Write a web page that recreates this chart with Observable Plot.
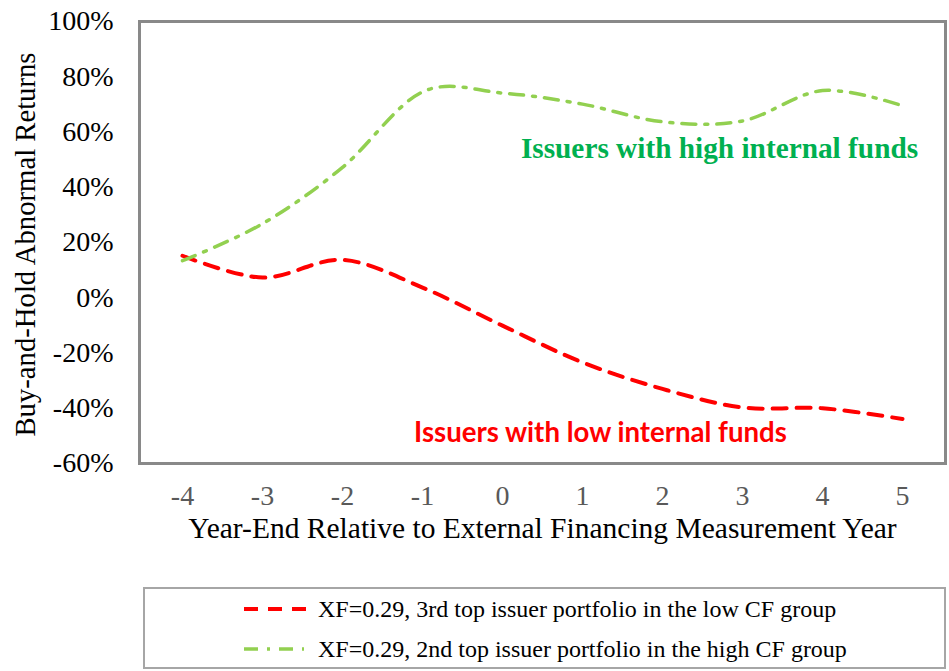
<!DOCTYPE html>
<html>
<head>
<meta charset="utf-8">
<script src="https://cdn.jsdelivr.net/npm/d3@7"></script>
<script src="https://cdn.jsdelivr.net/npm/@observablehq/plot@0.6"></script>
<style>
  html, body { margin: 0; padding: 0; background: #fff; }
  #wrap { position: relative; width: 949px; height: 671px; overflow: hidden; }
  #legend { position: absolute; left: 143px; top: 587px; width: 799px; height: 78px;
            border: 2px solid #a6a6a6; font-family: "Liberation Serif", serif; font-size: 24px; color: #000; }
  .item { position: absolute; left: 0; display: flex; align-items: center; white-space: nowrap; }
  .item svg { display: block; }
</style>
</head>
<body>
<div id="wrap"></div>
<script>
const years = [-4, -3, -2, -1, 0, 1, 2, 3, 4, 5];
const lowCF  = [0.152, 0.073, 0.137, 0.037, -0.101, -0.234, -0.330, -0.397, -0.400, -0.439];
const highCF = [0.134, 0.268, 0.472, 0.745, 0.741, 0.701, 0.637, 0.640, 0.750, 0.695];
const yTicks = [-0.6, -0.4, -0.2, 0, 0.2, 0.4, 0.6, 0.8, 1.0];
const xTitle = "Year-End Relative to External Financing Measurement Year";
const yTitle = "Buy-and-Hold Abnormal Returns";
const seriesNames = [
  "XF=0.29, 3rd top issuer portfolio in the low CF group",
  "XF=0.29, 2nd top issuer portfolio in the high CF group"
];
const annotations = ["Issuers with high internal funds", "Issuers with low internal funds"];

const red = "#ff0000", green = "#92d050";
const lowData = years.map((y, i) => ({year: y, v: lowCF[i]}));
const highData = years.map((y, i) => ({year: y, v: highCF[i]}));
const serif = "Liberation Serif, serif";

const chart = Plot.plot({
  width: 949,
  height: 580,
  marginLeft: 139,
  marginRight: 4,
  marginTop: 21,
  marginBottom: 117,
  style: {fontFamily: serif, fontSize: "28px", background: "white", color: "#000"},
  x: {type: "point", domain: years, padding: 0.5},
  y: {domain: [-0.6, 1.0]},
  marks: [
    Plot.axisY({ticks: yTicks, tickSize: 0, tickPadding: 26, tickFormat: d => `${Math.round(d * 100)}%`,
      fontSize: 28, fontFamily: serif, fill: "#000", label: null}),
    Plot.axisX({tickSize: 0, tickPadding: 22, tickFormat: d => `${d}`, fill: "#595959",
      fontSize: 28, fontFamily: serif, label: null}),
    Plot.text([yTitle], {frameAnchor: "left", dx: -114, dy: 2, rotate: -90, textAnchor: "middle", text: d => d, fontSize: 28.7, fontFamily: serif, fill: "#000"}),
    Plot.text([xTitle], {frameAnchor: "bottom", dy: 74, text: d => d, fontSize: 29.5, fontFamily: serif, fill: "#000"}),
    Plot.frame({stroke: "#898989", strokeWidth: 3}),
    Plot.line(lowData, {x: "year", y: "v", stroke: red, strokeWidth: 4, strokeDasharray: "14,10", curve: "cardinal"}),
    Plot.line(highData, {x: "year", y: "v", stroke: green, strokeWidth: 3.5, strokeDasharray: "14,9,3,9", curve: "cardinal"}),
    Plot.text([annotations[0]], {x: [2], y: [0.539], dx: 57, text: d => d, fill: "#00b050", fontWeight: "bold", fontSize: 29.3, fontFamily: serif}),
    Plot.text([annotations[1]], {x: [1], y: [-0.489], dx: 18, text: d => d, fill: red, fontWeight: "bold", fontSize: 27.6, fontFamily: "Lato, sans-serif"})
  ]
});
const wrap = document.getElementById("wrap");
wrap.appendChild(chart);

const legend = document.createElement("div");
legend.id = "legend";
const dashes = [{stroke: red, dash: "14,10", w: 4, sw: 72}, {stroke: green, dash: "14,9,3,9", w: 3.5, sw: 60}];
seriesNames.forEach((name, i) => {
  const item = document.createElement("div");
  item.className = "item";
  item.style.top = (i === 0 ? 6 : 46) + "px";
  item.style.left = "97px";
  const sample = d3.create("svg").attr("width", 76).attr("height", 28);
  sample.append("line").attr("x1", 2).attr("x2", 2 + dashes[i].sw).attr("y1", 14).attr("y2", 14)
    .attr("stroke", dashes[i].stroke).attr("stroke-width", dashes[i].w).attr("stroke-dasharray", dashes[i].dash);
  item.appendChild(sample.node());
  const t = document.createElement("span");
  t.textContent = name;
  item.appendChild(t);
  legend.appendChild(item);
});
wrap.appendChild(legend);
</script>
</body>
</html>
